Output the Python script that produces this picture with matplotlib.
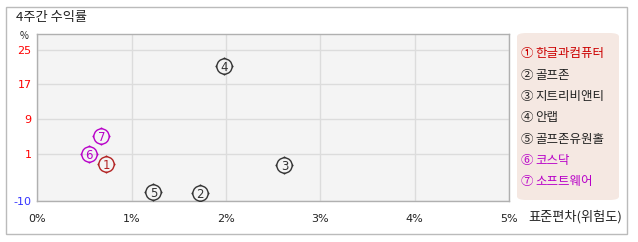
import matplotlib
matplotlib.use("Agg")
import matplotlib.pyplot as plt
from matplotlib.path import Path
from matplotlib.patches import Rectangle, FancyBboxPatch
import numpy as np

plt.rcParams['font.family'] = ['Noto Sans CJK KR', 'DejaVu Sans']

# data
labels = ["한글과컴퓨터", "골프존", "지트리비앤티", "안랩", "골프존유원홀", "코스닥", "소프트웨어"]
numbers = ["1", "2", "3", "4", "5", "6", "7"]
circled = ["①", "②", "③", "④", "⑤", "⑥", "⑦"]
risk = [0.73, 1.72, 2.62, 1.98, 1.23, 0.55, 0.68]       # std dev, %
returns = [-1.5, -8.2, -1.7, 21.4, -7.8, 0.9, 5.1]      # 4-week return, %
colors = ["#b22222", "#333333", "#333333", "#333333", "#333333", "#b800c8", "#b800c8"]
legend_colors = ["#cc0000", "#222222", "#222222", "#222222", "#222222", "#b800c8", "#b800c8"]
yticks = [-10, 1, 9, 17, 25]
ytick_colors = ["#3333ff", "#ff0000", "#ff0000", "#ff0000", "#ff0000"]
xticks = [0, 1, 2, 3, 4, 5]
xticklabels = ["0%", "1%", "2%", "3%", "4%", "5%"]

W, H = 638, 242
fig = plt.figure(figsize=(W/100, H/100), dpi=100)

def fx(px): return px / W
def fy(py): return 1 - py / H

# outer border
fig.patches.append(Rectangle((fx(6), fy(234)), fx(627) - fx(6), fy(7) - fy(234),
                             transform=fig.transFigure, fill=False, ec="#bbbbbb", lw=1))

ax = fig.add_axes([fx(37.3), fy(201), fx(509) - fx(37.3), fy(34) - fy(201)])
ax.set_facecolor("#f4f4f4")
ax.set_xlim(0, 5)
ax.set_ylim(-10, 28.7)
for s in ax.spines.values():
    s.set_color("#b0b0b0")
    s.set_linewidth(1)
ax.set_yticks(yticks)
ax.set_xticks(xticks)
ax.grid(True, color="#dcdcdc", lw=1)
ax.set_axisbelow(True)
ax.tick_params(length=0)
ax.set_yticklabels([str(v) for v in yticks], fontsize=8, family=['DejaVu Sans'])
for lab, c in zip(ax.get_yticklabels(), ytick_colors):
    lab.set_color(c)
ax.set_xticklabels(xticklabels, fontsize=8, color="#222222", family=['DejaVu Sans'])
ax.tick_params(axis='x', pad=9)
ax.tick_params(axis='y', pad=4)

# custom marker: circle with small ticks
circ = Path.unit_circle()
ticks = Path([(0, 1), (0, 1.18), (0, -1), (0, -1.18), (1, 0), (1.18, 0), (-1, 0), (-1.18, 0)],
             [Path.MOVETO, Path.LINETO] * 4)
marker = Path.make_compound_path(circ, ticks)

for x, y, n, c in zip(risk, returns, numbers, colors):
    ax.plot([x], [y], marker=marker, ms=13, mfc="none", mec=c, mew=1, ls="none", zorder=3)
    ax.text(x, y, n, color=c, fontsize=8.5, ha="center", va="center_baseline", zorder=4,
            family=['DejaVu Sans'])

fig.text(fx(16), fy(17), "4주간 수익률", fontsize=9.5, color="#222222", va="center")
fig.text(fx(24), fy(36), "%", fontsize=7, color="#222222", va="center", ha="center")
fig.text(fx(528), fy(217), "표준편차(위험도)", fontsize=9.5, color="#222222", va="center")

# legend box
lb = FancyBboxPatch((fx(517), fy(200)), fx(619) - fx(517), fy(33) - fy(200),
                    boxstyle="round,pad=0,rounding_size=0.015", transform=fig.transFigure,
                    fc="#f5e8e2", ec="none")
fig.patches.append(lb)
for i, (cc, lab, c) in enumerate(zip(circled, labels, legend_colors)):
    yy = fy(54 + i * 21.3)
    fig.text(fx(521), yy, cc, fontsize=9, color=c, va="center")
    fig.text(fx(535), yy, lab, fontsize=9, color=c, va="center")

fig.savefig("out.png", dpi=100)
